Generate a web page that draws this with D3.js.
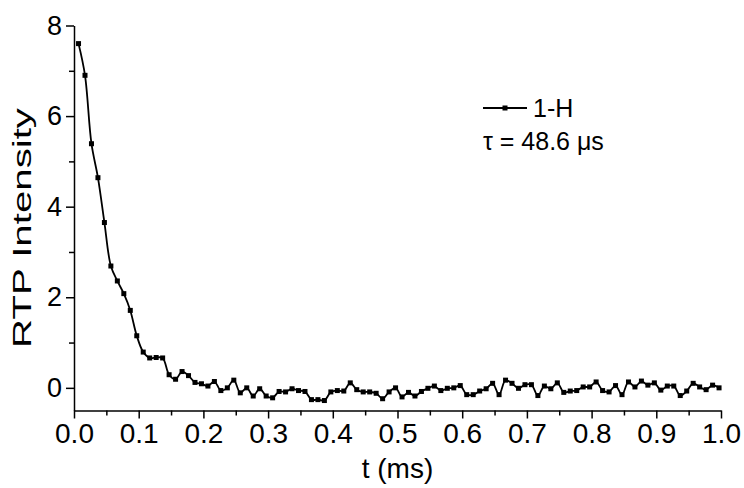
<!DOCTYPE html>
<html>
<head>
<meta charset="utf-8">
<script src="https://cdn.jsdelivr.net/npm/d3@7"></script>
<style>
  body { margin: 0; background: #fff; }
  text { font-family: "Liberation Sans", Arial, sans-serif; fill: #000; }
</style>
</head>
<body>
<div id="chart"></div>
<script>
const width = 744;
const height = 488;

// time (ms) of each sample
const times = [
  0.007, 0.017, 0.027, 0.037, 0.047, 0.057, 0.067, 0.077, 0.087, 0.097,
  0.107, 0.117, 0.127, 0.137, 0.147, 0.157, 0.167, 0.177, 0.187, 0.197,
  0.207, 0.217, 0.227, 0.237, 0.247, 0.257, 0.267, 0.277, 0.287, 0.297,
  0.307, 0.317, 0.327, 0.337, 0.347, 0.357, 0.367, 0.377, 0.387, 0.397,
  0.407, 0.417, 0.427, 0.437, 0.447, 0.457, 0.467, 0.477, 0.487, 0.497,
  0.507, 0.517, 0.527, 0.537, 0.547, 0.557, 0.567, 0.577, 0.587, 0.597,
  0.607, 0.617, 0.627, 0.637, 0.647, 0.657, 0.667, 0.677, 0.687, 0.697,
  0.707, 0.717, 0.727, 0.737, 0.747, 0.757, 0.767, 0.777, 0.787, 0.797,
  0.807, 0.817, 0.827, 0.837, 0.847, 0.857, 0.867, 0.877, 0.887, 0.897,
  0.907, 0.917, 0.927, 0.937, 0.947, 0.957, 0.967, 0.977, 0.987, 0.997
];

// RTP intensity of 1-H
const intensity = [
  7.60, 6.90, 5.39, 4.64, 3.65, 2.69, 2.36, 2.08, 1.71, 1.15,
  0.79, 0.66, 0.67, 0.66, 0.29, 0.19, 0.36, 0.27, 0.12, 0.09,
  0.04, 0.14, -0.06, 0.00, 0.17, -0.11, 0.00, -0.18, -0.02, -0.18,
  -0.22, -0.08, -0.09, -0.02, -0.06, -0.08, -0.26, -0.26, -0.28, -0.09,
  -0.06, -0.07, 0.11, -0.04, -0.09, -0.09, -0.12, -0.24, -0.09, 0.00,
  -0.20, -0.10, -0.18, -0.08, -0.01, 0.04, -0.06, -0.01, 0.00, 0.05,
  -0.15, -0.15, -0.07, -0.02, 0.10, -0.15, 0.17, 0.10, -0.01, 0.07,
  0.07, -0.17, 0.04, -0.02, 0.11, -0.10, -0.07, -0.06, 0.02, 0.02,
  0.13, -0.06, -0.09, 0.05, -0.15, 0.13, 0.02, 0.15, 0.06, 0.11,
  -0.05, 0.04, 0.04, -0.17, -0.07, 0.10, 0.02, -0.04, 0.06, 0.00
];

const xTicks = [0, 0.1, 0.2, 0.3, 0.4, 0.5, 0.6, 0.7, 0.8, 0.9, 1.0];
const xMinorTicks = [0.05, 0.15, 0.25, 0.35, 0.45, 0.55, 0.65, 0.75, 0.85, 0.95];
const yTicks = [0, 2, 4, 6, 8];
const yMinorTicks = [1, 3, 5, 7];

const data = times.map((t, i) => ({ t: t, v: intensity[i] }));

const svg = d3.select("#chart")
    .append("svg")
    .attr("width", width)
    .attr("height", height);

const x = d3.scaleLinear().domain([0, 1]).range([74, 721]);
const y = d3.scaleLinear().domain([-0.5, 8]).range([410.5, 25.5]);

// minor ticks first so the major axis draws on top
svg.append("g")
    .attr("transform", `translate(0,${y(-0.5)})`)
    .call(d3.axisBottom(x).tickValues(xMinorTicks).tickSize(5).tickFormat(""))
    .call(g => g.select(".domain").remove());

svg.append("g")
    .attr("transform", `translate(${x(0)},0)`)
    .call(d3.axisLeft(y).tickValues(yMinorTicks).tickSize(5).tickFormat(""))
    .call(g => g.select(".domain").remove());

const xAxis = svg.append("g")
    .attr("transform", `translate(0,${y(-0.5)})`)
    .call(d3.axisBottom(x).tickValues(xTicks).tickSize(8).tickSizeOuter(0).tickPadding(5)
        .tickFormat(d3.format(".1f")));

const yAxis = svg.append("g")
    .attr("transform", `translate(${x(0)},0)`)
    .call(d3.axisLeft(y).tickValues(yTicks).tickSize(8).tickSizeOuter(0).tickPadding(4)
        .tickFormat(d3.format("d")));

svg.selectAll(".tick line, .domain")
    .attr("stroke", "#000")
    .attr("stroke-width", 1.5);

xAxis.selectAll("text").style("font-size", "28px");
yAxis.selectAll("text").style("font-size", "27px");

// axis titles
svg.append("text")
    .attr("x", (x(0) + x(1)) / 2)
    .attr("y", 478)
    .attr("text-anchor", "middle")
    .style("font-size", "28px")
    .text("t (ms)");

svg.append("text")
    .attr("transform", "translate(31,228) rotate(-90)")
    .attr("text-anchor", "middle")
    .attr("textLength", 240)
    .attr("lengthAdjust", "spacingAndGlyphs")
    .style("font-size", "26px")
    .text("RTP Intensity");

// decay curve
const line = d3.line()
    .x(d => x(d.t))
    .y(d => y(d.v))
    .curve(d3.curveCatmullRom.alpha(0.5));

svg.append("path")
    .datum(data)
    .attr("fill", "none")
    .attr("stroke", "#000")
    .attr("stroke-width", 1.8)
    .attr("d", line);

svg.selectAll(".pt")
    .data(data)
    .enter()
    .append("rect")
    .attr("class", "pt")
    .attr("x", d => x(d.t) - 2.5)
    .attr("y", d => y(d.v) - 2.5)
    .attr("width", 5)
    .attr("height", 5)
    .attr("fill", "#000");

// legend
const legend = svg.append("g");
legend.append("line")
    .attr("x1", 483).attr("x2", 527)
    .attr("y1", 108).attr("y2", 108)
    .attr("stroke", "#000")
    .attr("stroke-width", 1.8);
legend.append("rect")
    .attr("x", 502.5).attr("y", 105.5)
    .attr("width", 5).attr("height", 5)
    .attr("fill", "#000");
legend.append("text")
    .attr("x", 533)
    .attr("y", 117)
    .style("font-size", "25px")
    .text("1-H");
legend.append("text")
    .attr("x", 483)
    .attr("y", 150)
    .style("font-size", "25px")
    .text("τ = 48.6 μs");
</script>
</body>
</html>
